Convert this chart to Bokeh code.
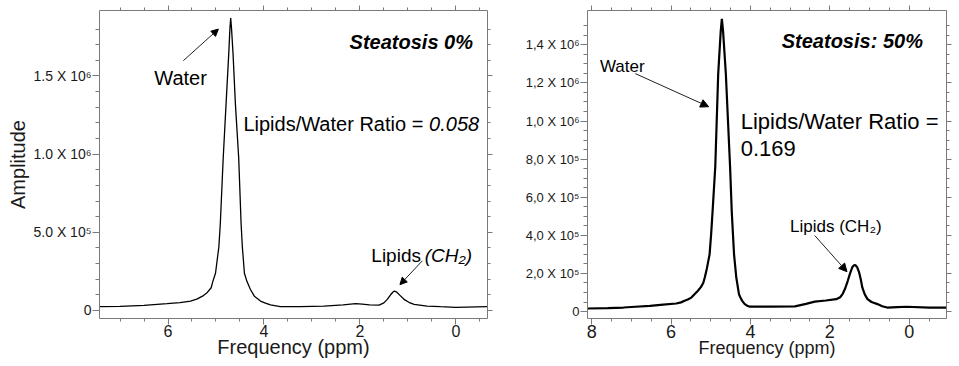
from bokeh.plotting import figure
from bokeh.models import (Range1d, LinearAxis, FixedTicker, Label, Arrow,
                          NormalHead, ColumnDataSource, CustomLabelingPolicy)
from bokeh.layouts import row
from bokeh.embed import file_html
from bokeh.resources import INLINE

FONT = "Liberation Sans"

# ---------------- data: left panel (Steatosis 0%) ----------------
left_ppm = [7.43, 7.0, 6.5, 6.02, 5.75, 5.53, 5.40, 5.28, 5.18, 5.10, 5.065, 5.01,
            4.94, 4.91, 4.85, 4.79, 4.735, 4.71, 4.693, 4.675, 4.643, 4.595, 4.526,
            4.476, 4.45, 4.407, 4.355, 4.282, 4.20, 4.073, 3.97, 3.864, 3.66, 3.24,
            2.75, 2.35, 2.09, 1.95, 1.8, 1.6, 1.50, 1.43, 1.36, 1.31, 1.28, 1.24,
            1.17, 1.08, 0.98, 0.87, 0.6, 0.32, 0.0, -0.66]
left_amp = [0.024e6, 0.026e6, 0.032e6, 0.043e6, 0.050e6, 0.060e6, 0.072e6, 0.091e6,
            0.115e6, 0.145e6, 0.186e6, 0.238e6, 0.406e6, 0.553e6, 0.97e6, 1.32e6,
            1.635e6, 1.80e6, 1.871e6, 1.80e6, 1.635e6, 1.32e6, 0.974e6, 0.553e6,
            0.406e6, 0.238e6, 0.186e6, 0.134e6, 0.091e6, 0.060e6, 0.047e6, 0.035e6,
            0.024e6, 0.024e6, 0.028e6, 0.036e6, 0.043e6, 0.040e6, 0.036e6, 0.034e6,
            0.048e6, 0.071e6, 0.100e6, 0.118e6, 0.123e6, 0.119e6, 0.098e6, 0.071e6,
            0.052e6, 0.039e6, 0.028e6, 0.024e6, 0.020e6, 0.024e6]

left_x_ticks = [6, 4, 2, 0]
left_x_minor = [7.0, 6.5, 5.5, 5.0, 4.5, 3.5, 3.0, 2.5, 1.5, 1.0, 0.5, -0.5]
left_y_ticks = [0, 5e5, 1e6, 1.5e6]
left_y_labels = ["0", "5.0 X 10\u2075", "1.0 X 10\u2076", "1.5 X 10\u2076"]
left_y_minor = [1e5, 2e5, 3e5, 4e5, 6e5, 7e5, 8e5, 9e5, 1.1e6, 1.2e6, 1.3e6,
                1.4e6, 1.6e6, 1.7e6, 1.8e6]

# ---------------- data: right panel (Steatosis 50%) ----------------
right_ppm = [8.107, 7.6, 7.2, 6.9, 6.53, 6.2, 5.87, 5.75, 5.66, 5.58, 5.49, 5.41,
             5.33, 5.25, 5.19, 5.15, 5.10, 5.03, 4.99, 4.955, 4.887, 4.813, 4.75,
             4.721, 4.69, 4.621, 4.514, 4.472, 4.44, 4.414, 4.357, 4.29, 4.25,
             4.208, 4.15, 4.08, 4.03, 3.5, 2.88, 2.6, 2.38, 2.1, 1.84, 1.74, 1.68,
             1.62, 1.55, 1.49, 1.43, 1.39, 1.36, 1.31, 1.26, 1.22, 1.18, 1.12, 1.05,
             0.95, 0.80, 0.68, 0.555, 0.3, 0.06, -0.5, -0.94]
right_amp = [0.016e6, 0.018e6, 0.021e6, 0.025e6, 0.030e6, 0.036e6, 0.042e6, 0.048e6,
             0.056e6, 0.063e6, 0.073e6, 0.091e6, 0.108e6, 0.128e6, 0.150e6, 0.180e6,
             0.225e6, 0.300e6, 0.410e6, 0.526e6, 0.761e6, 1.249e6, 1.47e6, 1.536e6,
             1.47e6, 1.249e6, 0.761e6, 0.526e6, 0.400e6, 0.300e6, 0.178e6, 0.091e6,
             0.072e6, 0.056e6, 0.040e6, 0.030e6, 0.026e6, 0.026e6, 0.027e6, 0.040e6,
             0.052e6, 0.058e6, 0.065e6, 0.075e6, 0.091e6, 0.118e6, 0.160e6, 0.200e6,
             0.234e6, 0.243e6, 0.244e6, 0.232e6, 0.204e6, 0.168e6, 0.125e6, 0.090e6,
             0.065e6, 0.050e6, 0.039e6, 0.028e6, 0.021e6, 0.023e6, 0.025e6, 0.021e6,
             0.021e6]

right_x_ticks = [8, 6, 4, 2, 0]
right_x_minor = [7.5, 7.0, 6.5, 5.5, 5.0, 4.5, 3.5, 3.0, 2.5, 1.5, 1.0, 0.5, -0.5]
right_y_ticks = [0, 2e5, 4e5, 6e5, 8e5, 1e6, 1.2e6, 1.4e6]
right_y_labels = ["0", "2,0 X 10\u2075", "4,0 X 10\u2075", "6,0 X 10\u2075",
                  "8,0 X 10\u2075", "1,0 X 10\u2076", "1,2 X 10\u2076", "1,4 X 10\u2076"]
right_y_minor = [k * 5e4 for k in range(1, 31) if k % 4 != 0]

AX_COLOR = "#7a7a7a"
H = 366


def style_axis(ax, tick_out, minor_out, label_size=None):
    ax.axis_line_color = AX_COLOR
    ax.axis_line_width = 1
    ax.major_tick_line_color = AX_COLOR
    ax.minor_tick_line_color = AX_COLOR
    ax.major_tick_in = 0
    ax.minor_tick_in = 0
    ax.major_tick_out = tick_out
    ax.minor_tick_out = minor_out
    ax.major_label_text_font = FONT
    ax.major_label_text_color = "#1a1a1a"
    if label_size is None:
        ax.major_label_text_font_size = "1px"
        ax.major_label_standoff = 0
        ax.major_label_policy = CustomLabelingPolicy(code="return []")
    else:
        ax.major_label_text_font_size = label_size
        ax.major_label_standoff = 1


def make_panel(width, xr, yr, min_left, min_right, min_top, min_bottom,
               xt, xm, yt, ym, ylabels, xlabel_size, ylabel_size):
    p = figure(width=width, height=H, x_range=Range1d(*xr), y_range=Range1d(*yr),
               output_backend="svg", toolbar_location=None,
               min_border_left=min_left, min_border_right=min_right,
               min_border_top=min_top, min_border_bottom=min_bottom)
    p.outline_line_color = None
    p.xgrid.visible = False
    p.ygrid.visible = False
    p.background_fill_color = "white"
    p.border_fill_color = "white"
    xtick = FixedTicker(ticks=xt, minor_ticks=xm)
    ytick = FixedTicker(ticks=yt, minor_ticks=ym)
    xa = p.below[0]
    xa.ticker = xtick
    style_axis(xa, 6, 3, xlabel_size)
    xa.major_label_standoff = 0
    ya = p.left[0]
    ya.ticker = ytick
    ya.major_label_overrides = dict(zip(yt, ylabels))
    style_axis(ya, 7, 4, ylabel_size)
    ta = LinearAxis(ticker=xtick)
    style_axis(ta, 5, 3)
    p.add_layout(ta, "above")
    ra = LinearAxis(ticker=ytick)
    style_axis(ra, 5, 3)
    p.add_layout(ra, "right")
    return p


def add_label(p, x, y, text, size, style="normal", align="left"):
    p.add_layout(Label(x=x, y=y, text=text, text_font=FONT, text_font_size=size,
                       text_font_style=style, text_color="black",
                       text_baseline="alphabetic", text_align=align))


def add_arrow(p, xs, ys, xe, ye, size):
    p.add_layout(Arrow(end=NormalHead(size=size, fill_color="black",
                                      line_color="black"),
                       x_start=xs, y_start=ys, x_end=xe, y_end=ye,
                       line_color="#222222", line_width=1))


def axis_title(ax, text, size, standoff):
    ax.axis_label = text
    ax.axis_label_text_font = FONT
    ax.axis_label_text_font_size = size
    ax.axis_label_text_font_style = "normal"
    ax.axis_label_text_color = "#1a1a1a"
    ax.axis_label_standoff = standoff


# ---------------- left panel ----------------
p1 = make_panel(510, (7.428, -0.66), (-0.0517e6, 1.919e6), 99, 23, 10, 43,
                left_x_ticks, left_x_minor, left_y_ticks, left_y_minor,
                left_y_labels, "16px", "14px")
axis_title(p1.left[0], "Amplitude", "20px", 2)
axis_title(p1.below[0], "Frequency (ppm)", "20px", -4)
p1.line(x="ppm", y="amp", source=ColumnDataSource(dict(ppm=left_ppm, amp=left_amp)),
        line_color="black", line_width=1.3)

add_label(p1, -0.357, 1.719e6, "Steatosis 0%", "20px", "bold italic", "right")
add_label(p1, 6.286, 1.486e6, "Water", "20px")
add_label(p1, 4.428, 1.194e6, "Lipids/Water Ratio =", "20px")
add_label(p1, 0.557, 1.194e6, "0.058", "20px", "italic")
add_label(p1, 1.762, 0.350e6, "Lipids", "19px")
add_label(p1, 0.649, 0.350e6, "(CH\u2082)", "19px", "italic")
add_arrow(p1, 5.68, 1.598e6, 4.95, 1.800e6, 7)
add_arrow(p1, 0.697, 0.318e6, 1.165, 0.165e6, 7)

# ---------------- right panel ----------------
p2 = make_panel(448, (8.107, -0.94), (-0.0366e6, 1.580e6), 77, 8, 8, 48,
                right_x_ticks, right_x_minor, right_y_ticks, right_y_minor,
                right_y_labels, "18px", "13px")
axis_title(p2.below[0], "Frequency (ppm)", "18px", -3)
p2.line(x="ppm", y="amp", source=ColumnDataSource(dict(ppm=right_ppm, amp=right_amp)),
        line_color="black", line_width=2.2)

add_label(p2, 3.212, 1.418e6, "Steatosis: 50%", "20px", "bold italic")
add_label(p2, 7.793, 1.287e6, "Water", "17px")
add_label(p2, 4.247, 0.996e6, "Lipids/Water Ratio =", "22px")
add_label(p2, 4.247, 0.857e6, "0.169", "22px")
add_label(p2, 3.003, 0.444e6, "Lipids  (CH\u2082)", "17px")
add_arrow(p2, 6.904, 1.249e6, 5.054, 1.075e6, 8)
add_arrow(p2, 2.380, 0.399e6, 1.568, 0.209e6, 8)

layout = row(p1, p2)
open("out.html", "w").write(file_html(layout, INLINE))
